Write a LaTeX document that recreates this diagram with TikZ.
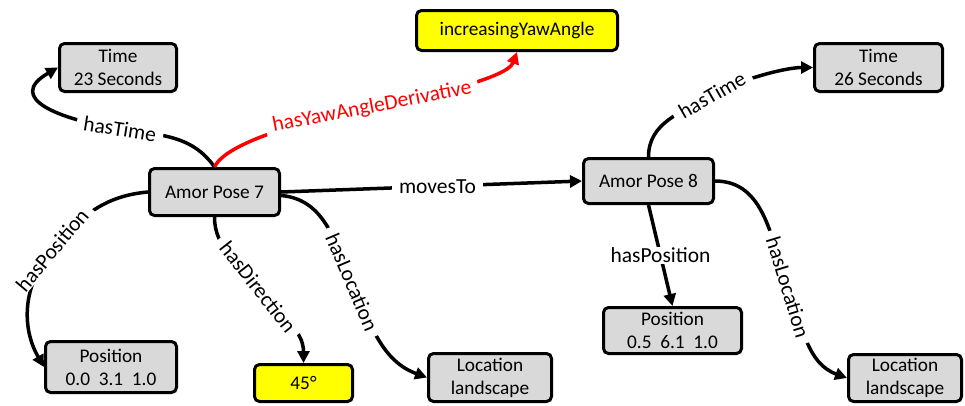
\documentclass[tikz,border=0pt]{standalone}
\usepackage{fontspec}
\setmainfont{Carlito}
\usetikzlibrary{arrows.meta}
\definecolor{boxgray}{RGB}{217,217,217}
\definecolor{boxyellow}{RGB}{255,255,0}
\begin{document}
\begin{tikzpicture}[x=1pt,y=1pt,
  box/.style={draw=black, line width=3pt, rounded corners=5pt, fill=boxgray, align=center,
    font=\fontsize{19.3}{23}\selectfont, inner sep=0pt},
  ybox/.style={box, fill=boxyellow},
  edge/.style={line width=3.5pt, -{Triangle[length=12pt,width=12pt]}},
  redge/.style={edge, draw=red},
  lbl/.style={fill=white, inner xsep=7pt, inner ysep=1pt, font=\fontsize{21.5}{25}\selectfont},
]
\useasboundingbox (0,0) rectangle (965,-405);

% boxes
\node[box, minimum width=117pt, minimum height=48pt] (T23) at (118,-67.5) {Time\\23 Seconds};
\node[ybox, minimum width=201pt, minimum height=40pt] (IYA) at (517,-30.5) {increasingYawAngle};
\node[box, minimum width=128pt, minimum height=48pt] (T26) at (878.5,-67.5) {Time\\26 Seconds};
\node[box, minimum width=130pt, minimum height=47pt] (A7) at (214.5,-192) {Amor Pose 7};
\node[box, minimum width=130pt, minimum height=45pt] (A8) at (648.5,-181) {Amor Pose 8};
\node[box, minimum width=131pt, minimum height=51pt] (P7) at (111,-367) {Position\\0.0~~3.1~~1.0};
\node[ybox, minimum width=98pt, minimum height=37pt] (D45) at (303.5,-383) {45°};
\node[box, minimum width=123pt, minimum height=48pt] (L7) at (490,-377.5) {Location\\landscape};
\node[box, minimum width=138pt, minimum height=46pt] (P8) at (672.5,-330.5) {Position\\0.5~~6.1~~1.0};
\node[box, minimum width=113pt, minimum height=47pt] (L8) at (905,-378) {Location\\landscape};

% label positions
\coordinate (c1) at (120,-129);
\coordinate (c2) at (372,-107);
\coordinate (c3) at (712,-95);
\coordinate (c4) at (52,-250);
\coordinate (c5) at (258,-287);
\coordinate (c6) at (352,-282);
\coordinate (c7) at (788,-287);

% connectors
\draw[edge] (A7.north) to[out=125,in=-9] (c1) to[out=171,in=210,looseness=1.8] (T23.west);
\draw[redge] (A7.north) to[out=65,in=191,looseness=0.5] (c2) to[out=11,in=-110,looseness=0.5] (IYA.south);
\draw[edge] (A8.north) to[out=90,in=210] (c3) to[out=30,in=180,looseness=0.7] (T26.west);
\draw[edge] (A7.west) to[out=185,in=50] (c4) to[out=230,in=120] (P7.west);
\draw[edge] (A7.south) to[out=-90,in=125] (c5) to[out=-55,in=90] (D45.north);
\draw[edge] (A7.-3) to[out=-5,in=113] (c6) to[out=-67,in=160] (L7.west);
\draw[edge] (A7.east) -- node[lbl, pos=0.52] (lMoves) {movesTo} (A8.west);
\draw[edge] (A8.south) -- node[lbl] (lPos8) {hasPosition} (P8.north);
\draw[edge] (A8.east) to[out=0,in=110] (c7) to[out=-70,in=160] (L8.west);

% labels
\node[lbl, rotate=-9] (lTime7) at (c1) {hasTime};
\node[lbl, rotate=11, text=red] (lYaw) at (c2) {hasYawAngleDerivative};
\node[lbl, rotate=30] (lTime8) at (c3) {hasTime};
\node[lbl, rotate=50] (lPos7) at (c4) {hasPosition};
\node[lbl, rotate=-52] (lDir) at (c5) {hasDirection};
\node[lbl, rotate=-67] (lLoc7) at (c6) {hasLocation};
\node[lbl, rotate=-73] (lLoc8) at (c7) {hasLocation};
\end{tikzpicture}
\end{document}
